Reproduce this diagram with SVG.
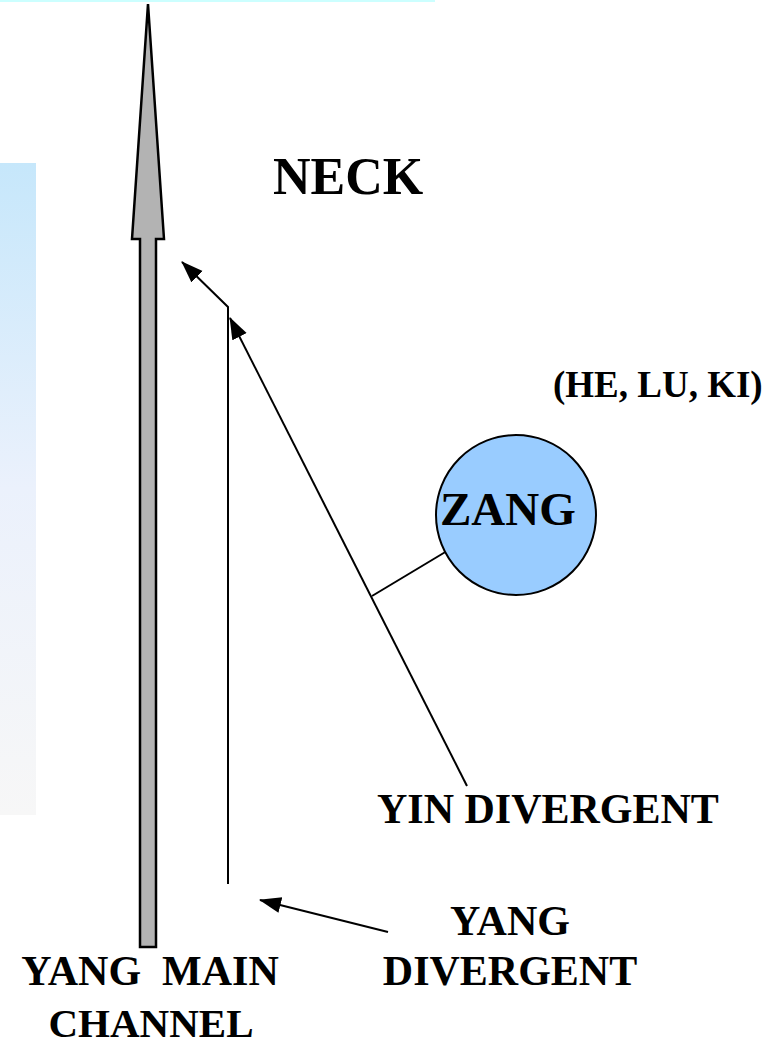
<svg xmlns="http://www.w3.org/2000/svg" width="780" height="1052" viewBox="0 0 780 1052">
<defs>
<linearGradient id="panelGrad" x1="0" y1="0" x2="0" y2="1">
<stop offset="0" stop-color="#c6e7fb"/>
<stop offset="0.5" stop-color="#ebf1fc"/>
<stop offset="1" stop-color="#f7f7f7"/>
</linearGradient>
<marker id="ah" markerUnits="userSpaceOnUse" markerWidth="22" markerHeight="18" refX="21" refY="8" orient="auto">
<path d="M0,0 L22,8 L0,16 z" fill="#000"/>
</marker>
<style>
.lbl{font-family:"Liberation Serif","Times New Roman",serif;font-weight:bold;fill:#000}
.conn{stroke:#000;stroke-width:2;fill:none}
</style>
</defs>
<rect x="0" y="0" width="780" height="1052" fill="#fff"/>
<rect x="0" y="0" width="435" height="2" fill="#ccffff"/>
<rect x="0" y="163" width="36" height="652" fill="url(#panelGrad)"/>

<g id="yang-main-channel">
<polygon points="148,4 164,239 156,239 156,947 140,947 140,239 132,239" fill="#b3b3b3" stroke="#000" stroke-width="2.5" stroke-linejoin="miter"/>
</g>

<g id="connectors">
<polyline class="conn" points="228,884 228,307 182,262" marker-end="url(#ah)"/>
<line class="conn" x1="467" y1="786" x2="230" y2="318" marker-end="url(#ah)"/>
<line class="conn" x1="388" y1="932" x2="260" y2="900" marker-end="url(#ah)"/>
<line class="conn" x1="452" y1="548" x2="372" y2="596"/>
</g>

<g id="zang">
<circle cx="516" cy="515" r="80" fill="#99ccff" stroke="#000" stroke-width="2"/>
<text class="lbl" x="440" y="525" font-size="47">ZANG</text>
</g>

<g id="neck">
<text class="lbl" x="273" y="194" font-size="52">NECK</text>
</g>
<g id="organs">
<text class="lbl" x="553" y="397" font-size="37">(HE, LU, KI)</text>
</g>
<g id="yin-divergent">
<text class="lbl" x="377" y="823" font-size="42">YIN DIVERGENT</text>
</g>
<g id="yang-divergent">
<text class="lbl" x="510" y="935" font-size="42" text-anchor="middle">YANG</text>
<text class="lbl" x="510" y="985" font-size="42" text-anchor="middle">DIVERGENT</text>
</g>
<g id="yang-main-label">
<text class="lbl" x="150" y="985" font-size="42" text-anchor="middle" xml:space="preserve">YANG  MAIN</text>
<text class="lbl" x="151" y="1037" font-size="41" text-anchor="middle">CHANNEL</text>
</g>
</svg>
